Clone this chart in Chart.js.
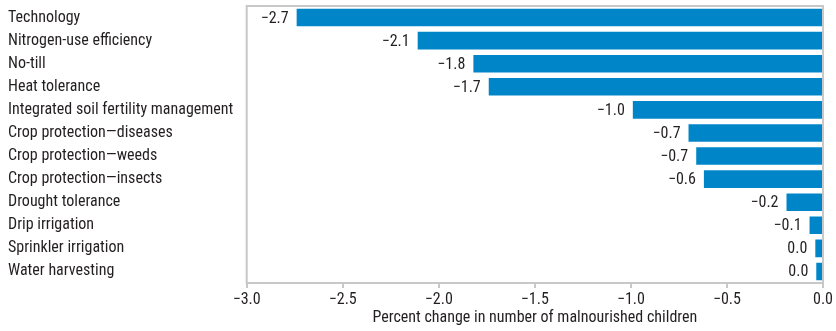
<!DOCTYPE html>
<html>
<head>
<meta charset="utf-8">
<script src="https://cdn.jsdelivr.net/npm/chart.js@4.4.1/dist/chart.umd.min.js"></script>
<style>
  html, body { margin: 0; padding: 0; background: #fff; }
  #wrap { width: 836px; height: 331px; }
</style>
</head>
<body>
<div id="wrap"><canvas id="chart"></canvas></div>
<script>
// Data
const categories = [
    "Technology", "Nitrogen-use efficiency", "No-till", "Heat tolerance",
    "Integrated soil fertility management", "Crop protection\u2014diseases",
    "Crop protection\u2014weeds", "Crop protection\u2014insects", "Drought tolerance",
    "Drip irrigation", "Sprinkler irrigation", "Water harvesting"
];
const changes = [-2.74, -2.11, -1.82, -1.74, -0.99, -0.70, -0.66, -0.62, -0.19, -0.07, -0.04, -0.035];
const xTicks = [-3.0, -2.5, -2.0, -1.5, -1.0, -0.5, 0.0];

const FONT = "'Liberation Sans Narrow', 'Arial Narrow', 'Roboto Condensed', sans-serif";
const TEXT = "#231f20";
const FRAME = "#c8c8c8";

function fmt(v){
    let s = Math.abs(v).toFixed(1);
    if(s === "0.0") return s;
    return (v < 0 ? "\u2212" : "") + s;
}

// value labels left of each bar
const valueLabels = {
    id: "valueLabels",
    afterDatasetsDraw(chart){
        const ctx = chart.ctx;
        const meta = chart.getDatasetMeta(0);
        ctx.save();
        ctx.font = "16px " + FONT;
        ctx.fillStyle = TEXT;
        ctx.textAlign = "right";
        ctx.textBaseline = "middle";
        meta.data.forEach((bar, i) => {
            ctx.fillText(fmt(changes[i]), bar.x - 8, bar.y + 1);
        });
        ctx.restore();
    }
};

// grey frame round the plot area
const frame = {
    id: "frame",
    beforeDatasetsDraw(chart){
        const {ctx, chartArea: a} = chart;
        ctx.save();
        ctx.strokeStyle = FRAME;
        ctx.lineWidth = 2;
        ctx.strokeRect(a.left, a.top, a.right - a.left, a.bottom - a.top);
        ctx.restore();
    }
};

new Chart(document.getElementById("chart"), {
    type: "bar",
    data: {
        labels: categories,
        datasets: [{
            data: changes,
            backgroundColor: "#0086c8",
            barPercentage: 0.76,
            categoryPercentage: 1.0
        }]
    },
    options: {
        indexAxis: "y",
        responsive: true,
        maintainAspectRatio: false,
        animation: false,
        layout: { padding: { left: 8, top: 6, right: 13, bottom: 0 } },
        plugins: { legend: { display: false }, tooltip: { enabled: false } },
        scales: {
            x: {
                min: -3, max: 0,
                afterBuildTicks(axis){ axis.ticks = xTicks.map(v => ({ value: v })); },
                afterFit(axis){ axis.height = 48; },
                grid: { drawOnChartArea: false, tickLength: 5, color: FRAME, lineWidth: 2 },
                border: { display: false },
                ticks: {
                    color: TEXT, padding: 2, maxRotation: 0,
                    font: { family: FONT, size: 16 },
                    callback: v => fmt(v)
                },
                title: {
                    display: true,
                    text: "Percent change in number of malnourished children",
                    color: TEXT,
                    font: { family: FONT, size: 16 },
                    padding: { top: 0, bottom: 3 }
                }
            },
            y: {
                afterFit(axis){
                    axis.width = 238.7;
                    axis.paddingTop = 0;
                    axis.paddingBottom = 0;
                },
                grid: { display: false },
                border: { display: false },
                ticks: {
                    crossAlign: "far",
                    color: TEXT,
                    font: { family: FONT, size: 16 }
                }
            }
        }
    },
    plugins: [frame, valueLabels]
});
</script>
</body>
</html>
